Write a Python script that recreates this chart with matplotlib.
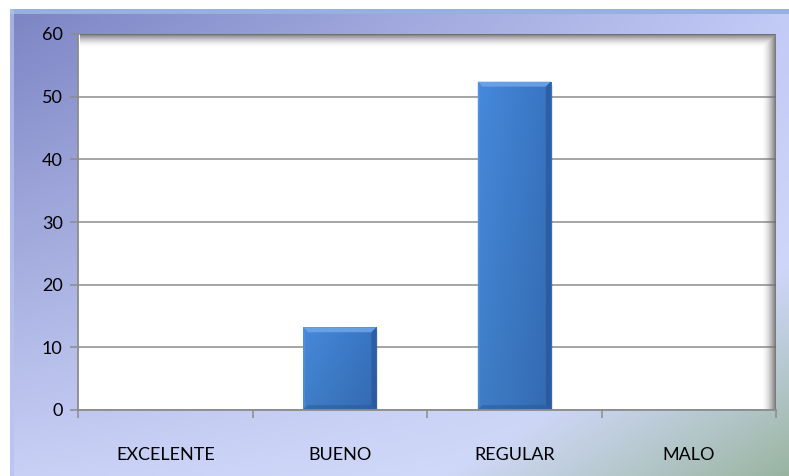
import numpy as np
import matplotlib
matplotlib.use("Agg")
import matplotlib.pyplot as plt
from matplotlib.patches import Rectangle, Polygon
from matplotlib.colors import to_rgb

categories = ["EXCELENTE", "BUENO", "REGULAR", "MALO"]
values = [0, 13.2, 52.4, 0]
yticks = [0, 10, 20, 30, 40, 50, 60]

W, H = 789, 476
fig = plt.figure(figsize=(W / 100, H / 100), dpi=100)
fig.patch.set_facecolor("white")

# background frame with gradient
bg = fig.add_axes([10 / W, 0, 1 - 10 / W, 1 - 9 / H])
bg.set_axis_off()
ny, nx = 200, 300
yy, xx = np.mgrid[0:1:ny * 1j, 0:1:nx * 1j]  # yy: 0 top -> 1 bottom
c_tl = np.array(to_rgb("#7c84c4"))
c_tr = np.array(to_rgb("#c2caf6"))
c_bl = np.array(to_rgb("#c8d0f6"))
c_br = np.array(to_rgb("#d8e0fc"))
X = xx[..., None]
Y = yy[..., None]
img = (c_tl * (1 - X) * (1 - Y) + c_tr * X * (1 - Y) + c_bl * (1 - X) * Y + c_br * X * Y)
d = np.clip((xx + yy - 1.55) / 0.45, 0, 1)[..., None]
green = np.array(to_rgb("#98b4a0"))
img = img * (1 - d) + green * d
bg.imshow(img, extent=[0, 1, 0, 1], aspect="auto", origin="upper")
bg.set_xlim(0, 1)
bg.set_ylim(0, 1)
bg.add_patch(Rectangle((0, 1 - 5 / (H - 9)), 1, 5 / (H - 9), color="#96b0e2", lw=0))
bg.add_patch(Rectangle((0, 0), 4 / (W - 10), 1, color="#b4c4ee", lw=0, alpha=0.7))

# plot area
L, R, T, B = 78, 776, 34, 410
ax = fig.add_axes([L / W, 1 - B / H, (R - L) / W, (B - T) / H])
ax.set_facecolor("white")
x = np.arange(len(categories))
px = (len(categories)) / (R - L)   # data units per pixel, x
py = 60 / (B - T)                 # data units per pixel, y

# inner shadow overlay (top and right edges)
pw, ph = R - L, B - T
gy = np.arange(ph)[:, None] * np.ones((1, pw))
gx = np.ones((ph, 1)) * np.arange(pw)[None, :]
top_a = np.clip(1 - gy / 13.0, 0, 1) ** 1.8 * 0.9
top_a[:, :2] = 0
right_a = np.clip(1 - (pw - 1 - gx) / 14.0, 0, 1) ** 1.8 * 0.9
right_a[:2, :] *= 0.6
alpha = np.maximum(top_a, right_a)
ov = np.zeros((ph, pw, 4))
ov[..., :3] = 0.42
ov[..., 3] = alpha
ax.imshow(ov, extent=[-0.5, 3.5, 0, 60], aspect="auto", origin="upper", zorder=1,
          interpolation="bilinear")

ax.set_yticks(yticks)
ax.yaxis.grid(True, color="#8c8c8c", lw=1.1, zorder=0)
ax.set_axisbelow(True)
for s in ["top", "right"]:
    ax.spines[s].set_visible(False)
for s in ["left", "bottom"]:
    ax.spines[s].set_color("#8c8c8c")
    ax.spines[s].set_linewidth(1.3)
    ax.spines[s].set_zorder(5)

ax.set_xticks(x)
ax.set_xticklabels(categories)
ax.set_xticks(np.arange(-0.5, len(categories)), minor=True)
ax.tick_params(axis="x", which="major", length=0, pad=27, labelsize=13, labelcolor="black")
ax.tick_params(axis="x", which="minor", length=6, color="#8c8c8c", width=1.1)
ax.tick_params(axis="y", length=6, color="#8c8c8c", width=1.1, labelsize=13, pad=5)
for lab in ax.get_xticklabels() + ax.get_yticklabels():
    lab.set_family(["Lato", "DejaVu Sans"])

bw = 0.42
bars = ax.bar(x, values, width=bw, color="#3d7cc8", edgecolor="none", zorder=3)
for b in bars:
    h = b.get_height()
    if h <= 0:
        continue
    x0 = b.get_x()
    x1 = x0 + bw
    # soft shadow
    ax.add_patch(Rectangle((x0 + 2 * px, -3 * py), bw, h, color="#000000", alpha=0.10, zorder=2, lw=0))
    # body gradient
    t = np.linspace(0, 1, 64)
    c1 = np.array(to_rgb("#4384d2"))
    c2 = np.array(to_rgb("#366fba"))
    grad = (c1 * (1 - t[:, None]) + c2 * t[:, None])[None, :, :]
    vert = np.linspace(1.04, 0.95, 32)[:, None, None]
    grad = np.clip(grad * vert, 0, 1)
    im = ax.imshow(grad, extent=[x0, x1, 0, h], aspect="auto", origin="upper", zorder=3,
                   interpolation="bilinear")
    im.set_clip_path(b)
    bx, by = 5 * px, 5 * py
    # bevels
    ax.add_patch(Polygon([(x0, h), (x1, h), (x1 - bx, h - by), (x0 + bx, h - by)],
                         closed=True, color="#6ea6ea", alpha=0.85, lw=0, zorder=4))
    ax.add_patch(Polygon([(x1, h), (x1, 0), (x1 - bx, by), (x1 - bx, h - by)],
                         closed=True, color="#244f8e", alpha=0.55, lw=0, zorder=4))
    ax.add_patch(Polygon([(x0, 0), (x1, 0), (x1 - bx, by), (x0 + bx, by)],
                         closed=True, color="#2a5796", alpha=0.5, lw=0, zorder=4))
    ax.add_patch(Polygon([(x0, h), (x0, 0), (x0 + 2 * px, by), (x0 + 2 * px, h - by)],
                         closed=True, color="#5e98e0", alpha=0.5, lw=0, zorder=4))

ax.set_xlim(-0.5, len(categories) - 0.5)
ax.set_ylim(0, 60)

fig.savefig("out.png", dpi=100, facecolor=fig.get_facecolor())
